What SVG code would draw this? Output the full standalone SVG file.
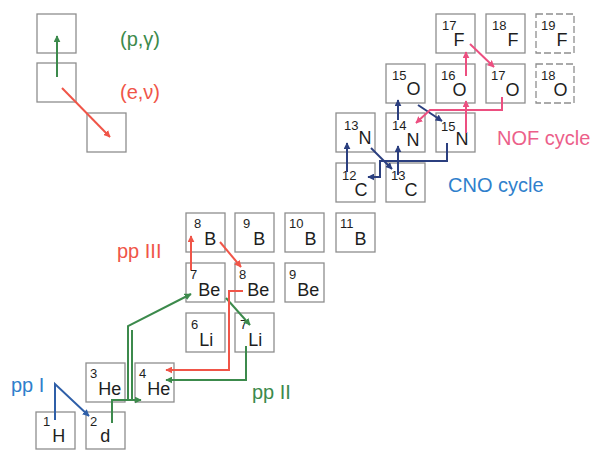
<svg xmlns="http://www.w3.org/2000/svg" width="591" height="450" viewBox="0 0 591 450">
  <style>
    .box { fill: #ffffff; stroke: #8e8e8e; stroke-width: 1.3; }
    .dash { stroke-dasharray: 7 3; }
    .nuc { font-family: "Liberation Sans", Arial, sans-serif; fill: #1e1e1e; }
    .m { font-size: 13px; }
    .s { font-size: 18px; }
    .lbl { font-family: "Liberation Sans", Arial, sans-serif; font-size: 20px; }
    .c { fill: none; stroke-width: 2; stroke-linejoin: miter; }
    .g { stroke: #3c8a4c; }
    .r { stroke: #f05548; }
    .b { stroke: #2f5fa8; }
    .n { stroke: #2b3f7f; }
    .p { stroke: #ec4f80; }
  </style>
  <defs>
    <marker id="ag" viewBox="0 0 10 10" refX="9" refY="5" markerWidth="7" markerHeight="7" markerUnits="userSpaceOnUse" orient="auto"><path d="M0,0 L10,5 L0,10 z" fill="#3c8a4c"/></marker>
    <marker id="ar" viewBox="0 0 10 10" refX="9" refY="5" markerWidth="7" markerHeight="7" markerUnits="userSpaceOnUse" orient="auto"><path d="M0,0 L10,5 L0,10 z" fill="#f05548"/></marker>
    <marker id="ab" viewBox="0 0 10 10" refX="9" refY="5" markerWidth="7" markerHeight="7" markerUnits="userSpaceOnUse" orient="auto"><path d="M0,0 L10,5 L0,10 z" fill="#2f5fa8"/></marker>
    <marker id="an" viewBox="0 0 10 10" refX="9" refY="5" markerWidth="7" markerHeight="7" markerUnits="userSpaceOnUse" orient="auto"><path d="M0,0 L10,5 L0,10 z" fill="#2b3f7f"/></marker>
    <marker id="ap" viewBox="0 0 10 10" refX="9" refY="5" markerWidth="7" markerHeight="7" markerUnits="userSpaceOnUse" orient="auto"><path d="M0,0 L10,5 L0,10 z" fill="#ec4f80"/></marker>
  </defs>

  <rect width="591" height="450" fill="#ffffff"/>

  <!-- key -->
  <g id="key">
    <rect class="box" x="37" y="14" width="39" height="39"/>
    <rect class="box" x="37" y="63" width="39" height="39"/>
    <rect class="box" x="87" y="113" width="39" height="39"/>
    <path class="c g" d="M57,77 V36" marker-end="url(#ag)"/>
    <path class="c r" d="M62,88 L110,137" marker-end="url(#ar)"/>
    <text class="lbl" x="120" y="46" fill="#3c8a4c">(p,γ)</text>
    <text class="lbl" x="120" y="99" fill="#f05548">(e,ν)</text>
  </g>

  <!-- nuclides: mass number + symbol -->
  <g id="H1"><rect class="box" x="36" y="412" width="39" height="37"/><text class="nuc" x="43" y="426"><tspan class="m">1</tspan><tspan class="s" dx="2" dy="16">H</tspan></text></g>
  <g id="d2"><rect class="box" x="86" y="412" width="39" height="37"/><text class="nuc" x="90" y="426"><tspan class="m">2</tspan><tspan class="s" dx="3" dy="16">d</tspan></text></g>
  <g id="He3"><rect class="box" x="86" y="363" width="39" height="39"/><text class="nuc" x="90" y="378"><tspan class="m">3</tspan><tspan class="s" dx="1" dy="17">He</tspan></text></g>
  <g id="He4"><rect class="box" x="135" y="363" width="39" height="39"/><text class="nuc" x="139" y="378"><tspan class="m">4</tspan><tspan class="s" dx="1" dy="17">He</tspan></text></g>
  <g id="Li6"><rect class="box" x="186" y="313" width="39" height="39"/><text class="nuc" x="191" y="329"><tspan class="m">6</tspan><tspan class="s" dx="1" dy="17">Li</tspan></text></g>
  <g id="Li7"><rect class="box" x="235" y="313" width="39" height="39"/><text class="nuc" x="240" y="329"><tspan class="m">7</tspan><tspan class="s" dx="1" dy="17">Li</tspan></text></g>
  <g id="Be7"><rect class="box" x="186" y="263" width="39" height="39"/><text class="nuc" x="190" y="279"><tspan class="m">7</tspan><tspan class="s" dx="1" dy="17">Be</tspan></text></g>
  <g id="Be8"><rect class="box" x="235" y="263" width="39" height="39"/><text class="nuc" x="239" y="279"><tspan class="m">8</tspan><tspan class="s" dx="1" dy="17">Be</tspan></text></g>
  <g id="Be9"><rect class="box" x="285" y="263" width="39" height="39"/><text class="nuc" x="289" y="279"><tspan class="m">9</tspan><tspan class="s" dx="1" dy="17">Be</tspan></text></g>
  <g id="B8"><rect class="box" x="186" y="213" width="39" height="39"/><text class="nuc" x="194" y="228"><tspan class="m">8</tspan><tspan class="s" dx="3" dy="17">B</tspan></text></g>
  <g id="B9"><rect class="box" x="235" y="213" width="39" height="39"/><text class="nuc" x="243" y="228"><tspan class="m">9</tspan><tspan class="s" dx="3" dy="17">B</tspan></text></g>
  <g id="B10"><rect class="box" x="285" y="213" width="39" height="39"/><text class="nuc" x="289" y="228"><tspan class="m">10</tspan><tspan class="s" dx="1" dy="17">B</tspan></text></g>
  <g id="B11"><rect class="box" x="336" y="213" width="39" height="39"/><text class="nuc" x="340" y="228"><tspan class="m">11</tspan><tspan class="s" dx="1" dy="17">B</tspan></text></g>
  <g id="C12"><rect class="box" x="336" y="163" width="39" height="39"/><text class="nuc" x="342" y="180"><tspan class="m">12</tspan><tspan class="s" dx="-2" dy="16">C</tspan></text></g>
  <g id="C13"><rect class="box" x="386" y="163" width="39" height="39"/><text class="nuc" x="391" y="180"><tspan class="m">13</tspan><tspan class="s" dx="-1" dy="16">C</tspan></text></g>
  <g id="N13"><rect class="box" x="336" y="113" width="39" height="39"/><text class="nuc" x="344" y="130"><tspan class="m">13</tspan><tspan class="s" dx="0" dy="14">N</tspan></text></g>
  <g id="N14"><rect class="box" x="386" y="113" width="39" height="39"/><text class="nuc" x="392" y="130"><tspan class="m">14</tspan><tspan class="s" dx="0" dy="16">N</tspan></text></g>
  <g id="N15"><rect class="box" x="436" y="113" width="39" height="39"/><text class="nuc" x="441" y="131"><tspan class="m">15</tspan><tspan class="s" dx="0" dy="14">N</tspan></text></g>
  <g id="O15"><rect class="box" x="386" y="64" width="39" height="39"/><text class="nuc" x="392" y="80"><tspan class="m">15</tspan><tspan class="s" dx="0" dy="15">O</tspan></text></g>
  <g id="O16"><rect class="box" x="436" y="64" width="39" height="39"/><text class="nuc" x="441" y="80"><tspan class="m">16</tspan><tspan class="s" dx="-3" dy="16">O</tspan></text></g>
  <g id="O17"><rect class="box" x="486" y="64" width="39" height="39"/><text class="nuc" x="491" y="80"><tspan class="m">17</tspan><tspan class="s" dx="0" dy="16">O</tspan></text></g>
  <g id="O18"><rect class="box dash" x="536" y="64" width="38" height="39"/><text class="nuc" x="541" y="80"><tspan class="m">18</tspan><tspan class="s" dx="-2" dy="16">O</tspan></text></g>
  <g id="F17"><rect class="box" x="436" y="14" width="39" height="39"/><text class="nuc" x="442" y="30"><tspan class="m">17</tspan><tspan class="s" dx="-3" dy="16">F</tspan></text></g>
  <g id="F18"><rect class="box" x="486" y="14" width="39" height="39"/><text class="nuc" x="492" y="30"><tspan class="m">18</tspan><tspan class="s" dx="1" dy="16">F</tspan></text></g>
  <g id="F19"><rect class="box dash" x="536" y="14" width="38" height="39"/><text class="nuc" x="541" y="30"><tspan class="m">19</tspan><tspan class="s" dx="1" dy="16">F</tspan></text></g>

  <!-- reaction paths -->
  <g id="connectors">
    <!-- pp I -->
    <path class="c b" d="M55,420 V384 L89,416" marker-end="url(#ab)"/>
    <!-- pp chain / pp II -->
    <path class="c g" d="M112,423 V400 H141" marker-end="url(#ag)"/>
    <path class="c g" d="M128,400 V326 L191,294" marker-end="url(#ag)"/>
    <path class="c g" d="M132,400 V330"/>
    <path class="c g" d="M226,298 L250,325" marker-end="url(#ag)"/>
    <path class="c g" d="M246,346 V380 H166" marker-end="url(#ag)"/>
    <!-- pp III -->
    <path class="c r" d="M191,270 V236" marker-end="url(#ar)"/>
    <path class="c r" d="M220,242 L241,267" marker-end="url(#ar)"/>
    <path class="c r" d="M243,291 H229 V370 H166" marker-end="url(#ar)"/>
    <!-- CNO cycle -->
    <path class="c n" d="M347,172 V143" marker-end="url(#an)"/>
    <path class="c n" d="M371,148 L392,169" marker-end="url(#an)"/>
    <path class="c n" d="M398,175 V146" marker-end="url(#an)"/>
    <path class="c n" d="M398,120 V100" marker-end="url(#an)"/>
    <path class="c n" d="M418,105 L442,121" marker-end="url(#an)"/>
    <path class="c n" d="M447,143 V161 H380 V177 H368" marker-end="url(#an)"/>
    <!-- NOF cycle -->
    <path class="c p" d="M466,133 V101" marker-end="url(#ap)"/>
    <path class="c p" d="M466,76 V52" marker-end="url(#ap)"/>
    <path class="c p" d="M470,44 L494,67" marker-end="url(#ap)"/>
    <path class="c p" d="M502,97 V110 H430 L416,123" marker-end="url(#ap)"/>
  </g>

  <!-- chain labels -->
  <g id="labels">
    <text class="lbl" x="117" y="258" font-size="17.5" fill="#f05548">pp III</text>
    <text class="lbl" x="11" y="392" fill="#2f7fcc">pp I</text>
    <text class="lbl" x="252" y="399" fill="#3c8a4c">pp II</text>
    <text class="lbl" x="497" y="145" fill="#ec5f8a">NOF cycle</text>
    <text class="lbl" x="448" y="192" fill="#2f7fcc">CNO cycle</text>
  </g>
</svg>
